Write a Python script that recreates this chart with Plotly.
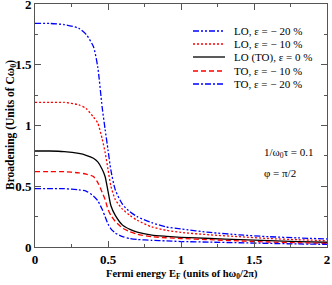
import plotly.graph_objects as go

# ---------------- data ----------------
fermi_energy = [0, 0.1, 0.2, 0.3, 0.35, 0.4, 0.43, 0.46, 0.48, 0.5, 0.52, 0.55,
                0.6, 0.65, 0.7, 0.8, 0.9, 1.0, 1.2, 1.4, 1.6, 1.8, 2.0]

lo_m20 = [1.84, 1.84, 1.83, 1.80, 1.75, 1.65, 1.48, 1.15, 0.97, 0.80, 0.63, 0.47,
          0.35, 0.29, 0.25, 0.20, 0.165, 0.148, 0.12, 0.10, 0.085, 0.075, 0.066]
lo_m10 = [1.19, 1.19, 1.19, 1.17, 1.14, 1.07, 1.02, 0.89, 0.78, 0.64, 0.50, 0.39,
          0.31, 0.26, 0.22, 0.165, 0.137, 0.12, 0.10, 0.085, 0.07, 0.06, 0.052]
lo_0 = [0.79, 0.79, 0.785, 0.77, 0.755, 0.73, 0.70, 0.64, 0.58, 0.46, 0.34, 0.26,
        0.18, 0.145, 0.122, 0.098, 0.088, 0.08, 0.07, 0.06, 0.052, 0.045, 0.039]
to_m10 = [0.62, 0.62, 0.62, 0.61, 0.60, 0.58, 0.53, 0.45, 0.39, 0.31, 0.26, 0.21,
          0.155, 0.125, 0.105, 0.085, 0.076, 0.07, 0.06, 0.05, 0.041, 0.035, 0.03]
to_m20 = [0.48, 0.48, 0.48, 0.47, 0.46, 0.42, 0.38, 0.31, 0.25, 0.19, 0.15, 0.115,
          0.085, 0.07, 0.062, 0.055, 0.05, 0.045, 0.04, 0.035, 0.03, 0.025, 0.022]

series_names = ["LO, ε = − 20 %", "LO, ε = − 10 %", "LO (TO), ε = 0 %",
                "TO, ε = − 10 %", "TO, ε = − 20 %"]
series_values = [lo_m20, lo_m10, lo_0, to_m10, to_m20]

x_ticks = [0, 0.5, 1, 1.5, 2]
x_tick_labels = ["0", "0.5", "1", "1.5", "2"]
y_ticks = [0, 0.5, 1, 1.5, 2]
y_tick_labels = ["0", "0.5", "1", "1.5", "2"]

x_title = "<b>Fermi energy E<sub>F</sub> (units of hω<sub>0</sub>/2π)</b>"
y_title = "<b>Broadening (Units of Cω<sub>0</sub>)</b>"
note_lines = ["1/ω<sub>0</sub>τ = 0.1", "φ = π/2"]

# ---------------- styles ----------------
colors = ["#0000ff", "#ff0000", "#000000", "#ff0000", "#0000ff"]
dashes = ["6px,2px,2px,2px,2px,2px", "2px,2px", "solid", "5px,3px", "6px,2px,2px,2px"]
FONT = "Liberation Serif, Times New Roman, serif"

fig = go.Figure()
for name, vals, c, d in zip(series_names, series_values, colors, dashes):
    fig.add_trace(go.Scatter(
        x=fermi_energy, y=vals, mode="lines", name=name,
        line=dict(color=c, dash=d, width=1.3, shape="spline", smoothing=0.6),
        showlegend=False, hoverinfo="skip"))

W, H = 332, 285
L, R, T, B = 35, 5, 4, 38
pw, ph = W - L - R, H - T - B
def px_x(p):
    return (p - L) / pw
def px_y(p):
    return (H - B - p) / ph

# compact legend
legend_rows = [31, 44, 57, 71, 84]
for name, c, d, row in zip(series_names, colors, dashes, legend_rows):
    fig.add_shape(type="line", xref="paper", yref="paper",
                  x0=px_x(193), x1=px_x(225), y0=px_y(row), y1=px_y(row),
                  line=dict(color=c, dash=d, width=1.3))
    fig.add_annotation(xref="paper", yref="paper", x=px_x(232), y=px_y(row),
                       text=name, showarrow=False, xanchor="left", yanchor="middle",
                       font=dict(family=FONT, size=11, color="#000000"))

for txt, row in zip(note_lines, [153, 173]):
    fig.add_annotation(xref="paper", yref="paper", x=px_x(262), y=px_y(row),
                       text=txt, showarrow=False, xanchor="left", yanchor="middle",
                       font=dict(family=FONT, size=11, color="#000000"))

# axis titles
fig.add_annotation(xref="paper", yref="paper", x=px_x(182), y=px_y(274),
                   text=x_title, showarrow=False, xanchor="center", yanchor="middle",
                   font=dict(family=FONT, size=10.5, color="#000000"))
fig.add_annotation(xref="paper", yref="paper", x=px_x(11), y=px_y(125),
                   text=y_title, showarrow=False, xanchor="center", yanchor="middle",
                   textangle=-90, font=dict(family=FONT, size=11.5, color="#000000"))

axis_common = dict(showline=True, linecolor="#555", linewidth=1, mirror="allticks",
                   ticks="inside", ticklen=6, tickwidth=1, tickcolor="#555",
                   showgrid=False, zeroline=False, automargin=False,
                   ticklabeloverflow="allow",
                   tickfont=dict(family=FONT, size=13, color="#000000", weight="bold"),
                   minor=dict(ticks="inside", ticklen=3, tickcolor="#555", dtick=0.25,
                              showgrid=False))

fig.update_xaxes(range=[0, 2], tickvals=x_ticks, ticktext=x_tick_labels, **axis_common)
fig.update_yaxes(range=[0, 2], tickvals=y_ticks, ticktext=y_tick_labels, **axis_common)

fig.update_layout(width=W, height=H, margin=dict(l=L, r=R, t=T, b=B),
                  plot_bgcolor="white", paper_bgcolor="white")

fig.write_html("out.html", config={"displayModeBar": False},
               post_script="document.body.style.margin='0';document.body.style.overflow='hidden';")
